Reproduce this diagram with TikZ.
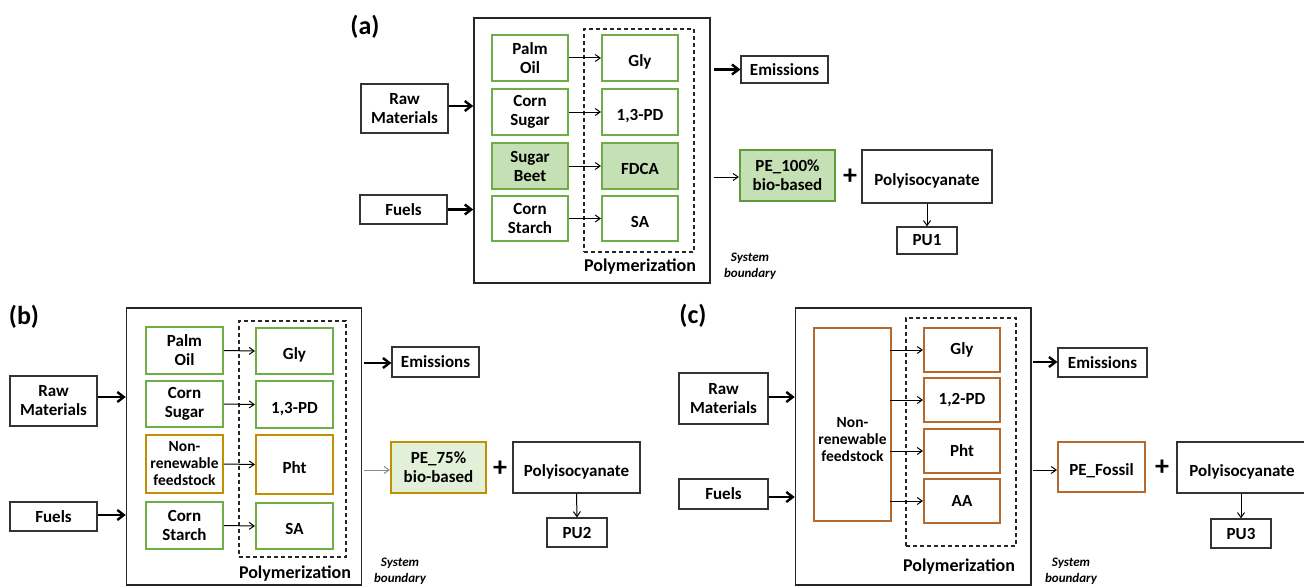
\documentclass[tikz,border=0pt]{standalone}
\usepackage{fontspec}
\setmainfont{Carlito}
\usetikzlibrary{arrows.meta}
\definecolor{grn}{HTML}{70AD47}
\definecolor{grnd}{HTML}{5E9B3C}
\definecolor{grnfill}{HTML}{C5E0B4}
\definecolor{grnlight}{HTML}{E2F0D9}
\definecolor{gold}{HTML}{BF9000}
\definecolor{brn}{HTML}{B5692C}
\tikzset{
  bx/.style={draw=black!80, line width=1.2pt, inner sep=0pt, align=center,
    font=\fontsize{17}{19}\selectfont\bfseries},
  gbx/.style={bx, draw=grn, line width=2pt},
  obx/.style={bx, draw=gold, line width=2pt},
  cbx/.style={bx, draw=brn, line width=2pt},
  low/.style={text height=21pt, text depth=4pt},
  sysbox/.style={draw=black!85, line width=1.5pt, inner sep=0pt},
  dashbox/.style={draw=black!85, line width=1.3pt, dash pattern=on 4pt off 3pt, inner sep=0pt},
  txt/.style={inner sep=0pt, align=center, font=\fontsize{17}{19}\selectfont\bfseries},
  polytxt/.style={inner sep=0pt, font=\fontsize{18}{20}\selectfont\bfseries},
  syslbl/.style={inner sep=0pt, align=center, font=\fontsize{13}{16}\selectfont\bfseries\itshape},
  panel/.style={inner sep=0pt, font=\fontsize{26}{28}\selectfont\bfseries},
  plus/.style={inner sep=0pt, font=\fontsize{28}{28}\selectfont\bfseries},
  thin/.style={-{Straight Barb[length=5pt,width=7pt]}, line width=1pt, black},
  thick/.style={-{Straight Barb[length=6.5pt,width=10pt]}, line width=2.4pt, black},
}
\begin{document}
\begin{tikzpicture}[x=1pt,y=-1pt]
\useasboundingbox (0,0) rectangle (1304,586);
\clip (0,0) rectangle (1304,586);
\fill[white] (0,0) rectangle (1304,586);

% ---------------- Panel (a) ----------------
\node[panel] (labA) at (365,27) {(a)};
\node[sysbox, minimum width=236, minimum height=265] (sysA) at (592,150.5) {};
\node[dashbox, minimum width=110, minimum height=223] (dashA) at (639,140.5) {};
\node[bx, minimum width=87, minimum height=49] (rawA) at (404.5,108.5) {Raw\\Materials};
\node[bx, minimum width=87, minimum height=29] (fuelA) at (403.5,209.5) {Fuels};
\node[gbx, minimum width=76, minimum height=46] (a1) at (530,58) {Palm\\Oil};
\node[gbx, minimum width=76, minimum height=46] (a2) at (530,112) {Corn\\Sugar};
\node[gbx, fill=grnfill, minimum width=76, minimum height=46] (a3) at (530,166) {Sugar\\Beet};
\node[gbx, minimum width=76, minimum height=45] (a4) at (530,218.5) {Corn\\Starch};
\node[gbx, low, minimum width=76, minimum height=46] (b1) at (640,58) {Gly};
\node[gbx, low, minimum width=76, minimum height=46] (b2) at (640,112) {1,3-PD};
\node[gbx, low, fill=grnfill, minimum width=76, minimum height=46] (b3) at (640,166) {FDCA};
\node[gbx, low, minimum width=76, minimum height=45] (b4) at (640,218.5) {SA};
\node[polytxt] (polyLabA) at (640,267) {Polymerization};
\node[bx, minimum width=87, minimum height=27] (emA) at (784.5,69.5) {Emissions};
\node[bx, draw=grnd, line width=2.2pt, fill=grnfill, minimum width=95, minimum height=51] (peA) at (787.5,175.5) {PE\_100\%\\bio-based};
\node[plus] (plusA) at (850,177) {+};
\node[bx, low, minimum width=130, minimum height=53] (polyA) at (927,176.5) {Polyisocyanate};
\node[bx, minimum width=60, minimum height=27] (puA) at (927,240.5) {PU1};
\node[syslbl] (sysLblA) at (750,266.5) {System\\boundary};
\draw[thick] (rawA.east |- 0,106) -- (sysA.west |- 0,106);
\draw[thick] (fuelA.east) -- (fuelA.east -| sysA.west);
\foreach \i in {1,2,3,4} \draw[thin] (a\i.east) -- (b\i.west);
\draw[thick] ([xshift=3pt]sysA.east |- emA.west) -- (emA.west);
\draw[thin] ([xshift=3pt]sysA.east |- 0,177) -- (peA.west |- 0,177);
\draw[thin] (polyA.south) -- (puA.north);

% ---------------- Panel (b) ----------------
\node[panel] (labB) at (24,317) {(b)};
\node[sysbox, minimum width=235, minimum height=277] (sysB) at (244,446.5) {};
\node[dashbox, minimum width=107, minimum height=236] (dashB) at (292.5,439) {};
\node[bx, minimum width=87, minimum height=50] (rawB) at (53.5,401) {Raw\\Materials};
\node[bx, minimum width=87, minimum height=29] (fuelB) at (53.5,516.5) {Fuels};
\node[gbx, minimum width=77, minimum height=47] (c1) at (184.5,350.5) {Palm\\Oil};
\node[gbx, minimum width=77, minimum height=46] (c2) at (184.5,404) {Corn\\Sugar};
\node[obx, minimum width=77, minimum height=58, font=\fontsize{15.5}{17}\selectfont\bfseries] (c3) at (184.5,464) {Non-\\renewable\\feedstock};
\node[gbx, minimum width=77, minimum height=47] (c4) at (184.5,525.5) {Corn\\Starch};
\node[gbx, low, minimum width=77, minimum height=46] (d1) at (294.5,351) {Gly};
\node[gbx, low, minimum width=77, minimum height=47] (d2) at (294.5,404.5) {1,3-PD};
\node[obx, low, minimum width=77, minimum height=59] (d3) at (294.5,464.5) {Pht};
\node[gbx, low, minimum width=77, minimum height=46] (d4) at (294.5,526) {SA};
\node[polytxt] (polyLabB) at (295,574) {Polymerization};
\node[bx, minimum width=87, minimum height=30] (emB) at (435.5,362) {Emissions};
\node[bx, draw=gold, line width=2.2pt, fill=grnlight, minimum width=95, minimum height=51] (peB) at (438.5,467.5) {PE\_75\%\\bio-based};
\node[plus] (plusB) at (500,469) {+};
\node[bx, low, minimum width=127, minimum height=51] (polyB) at (576.5,467.5) {Polyisocyanate};
\node[bx, minimum width=60, minimum height=29] (puB) at (577,532.5) {PU2};
\node[syslbl] (sysLblB) at (400,571) {System\\boundary};
\draw[thick] (rawB.east |- 0,397) -- (sysB.west |- 0,397);
\draw[thick] (fuelB.east |- 0,515) -- (sysB.west |- 0,515);
\foreach \i in {1,2,3,4} \draw[thin] (c\i.east) -- (d\i.west);
\draw[thick] ([xshift=2pt]sysB.east |- 0,363) -- (emB.west |- 0,363);
\draw[thin, draw=black!45] ([xshift=2pt]sysB.east |- 0,470) -- (peB.west |- 0,470);
\draw[thin] (polyB.south) -- (puB.north);

% ---------------- Panel (c) ----------------
\node[panel] (labC) at (693,316) {(c)};
\node[sysbox, minimum width=235.5, minimum height=277] (sysC) at (913.25,446.5) {};
\node[dashbox, minimum width=110, minimum height=228] (dashC) at (961,432) {};
\node[bx, minimum width=89, minimum height=51] (rawC) at (723.5,398.5) {Raw\\Materials};
\node[bx, minimum width=89, minimum height=30] (fuelC) at (723.5,494) {Fuels};
\node[cbx, minimum width=77, minimum height=193] (nrC) at (852.5,424.5) {};
\node[txt, font=\fontsize{15.5}{17}\selectfont\bfseries] (nrTxt) at ([yshift=-15pt]nrC.center) {Non-\\renewable\\feedstock};
\node[cbx, minimum width=76, minimum height=44] (e1) at (962,350) {Gly};
\node[cbx, minimum width=76, minimum height=44] (e2) at (962,400) {1,2-PD};
\node[cbx, minimum width=76, minimum height=44] (e3) at (962,451) {Pht};
\node[cbx, minimum width=76, minimum height=44] (e4) at (962,501) {AA};
\node[polytxt] (polyLabC) at (959,567) {Polymerization};
\node[bx, minimum width=89, minimum height=29] (emC) at (1102.5,362.5) {Emissions};
\node[cbx, low, minimum width=87, minimum height=50] (peC) at (1101.5,467) {PE\_Fossil};
\node[plus] (plusC) at (1162,468) {+};
\node[bx, low, minimum width=130, minimum height=51] (polyC) at (1242,467.5) {Polyisocyanate};
\node[bx, minimum width=60, minimum height=29] (puC) at (1241,533.5) {PU3};
\node[syslbl] (sysLblC) at (1071,571.5) {System\\boundary};
\draw[thick] (rawC.east |- 0,397) -- (sysC.west |- 0,397);
\draw[thick] (fuelC.east |- 0,497) -- (sysC.west |- 0,497);
\foreach \i in {1,2,3,4} \draw[thin] ([xshift=-2pt]nrC.east |- e\i.west) -- (e\i.west);
\draw[thick] ([xshift=1pt]sysC.east |- 0,362) -- (emC.west |- 0,362);
\draw[thin] ([xshift=1pt]sysC.east |- 0,470) -- (peC.west |- 0,470);
\draw[thin] (polyC.south -| puC.north) -- (puC.north);
\end{tikzpicture}
\end{document}
